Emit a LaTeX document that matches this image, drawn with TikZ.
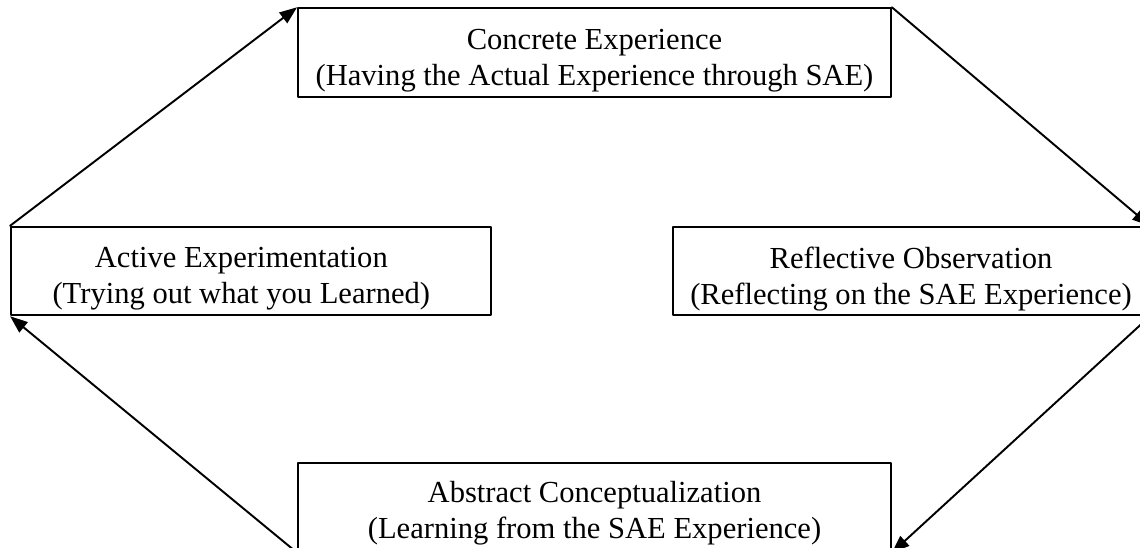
\documentclass[tikz,border=0pt]{standalone}
\usepackage{fontspec}
\setmainfont{Liberation Serif}
\usetikzlibrary{arrows,arrows.meta}
\usetikzlibrary{positioning}

\tikzset{
  stagebox/.style={draw,line width=1.1pt,inner sep=0pt,minimum height=1.77cm},
  stagetext/.style={align=center,inner sep=0pt,font=\fontsize{17.4}{20.5}\selectfont},
}

\begin{document}
\begin{tikzpicture}[line cap=round,line join=round,>={Triangle[length=10pt,width=7.5pt]},x=0.02cm,y=-0.02cm]
\useasboundingbox (0,0) rectangle (1140,548);
\clip (0,0) rectangle (1140,548);
% the four stages of the cycle
\node[stagebox,minimum width=11.86cm] (ce) at (594.5,52.5) {};
\node[stagebox,minimum width=9.6cm] (ae) at (251,271) {};
\node[stagebox,minimum width=9.52cm] (ro) at (911,271) {};
\node[stagebox,minimum width=11.86cm] (ac) at (594.5,507.5) {};
\node[stagetext] (ce-t) at ([yshift=-4.5pt]ce.center) {Concrete Experience\\(Having the Actual Experience through SAE)};
\node[stagetext] (ae-t) at ([xshift=-5.5pt,yshift=-4.5pt]ae.center) {Active Experimentation\\(Trying out what you Learned)};
\node[stagetext] (ro-t) at ([yshift=-4.5pt]ro.center) {Reflective Observation\\(Reflecting on the SAE Experience)};
\node[stagetext] (ac-t) at ([yshift=-3pt]ac.center) {Abstract Conceptualization\\(Learning from the SAE Experience)};
% arrows round the cycle
\draw [->,line width=1.1pt] (ae.north west) -- (ce.north west);
\draw [->,line width=1.1pt] (ce.north east) -- (ro.north east);
\draw [->,line width=1.1pt] (ro.south east) -- (ac.south east);
\draw [->,line width=1.1pt] (ac.south west) -- (ae.south west);
\end{tikzpicture}
\end{document}
